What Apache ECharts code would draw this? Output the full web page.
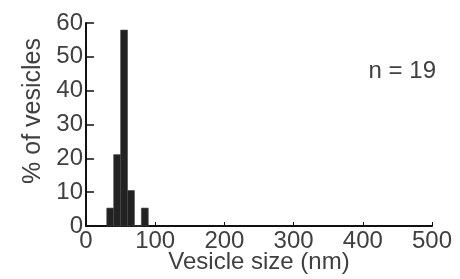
<!DOCTYPE html>
<html>
<head>
<meta charset="utf-8">
<script src="https://cdn.jsdelivr.net/npm/echarts@6/dist/echarts.min.js"></script>
<style>
  html, body { margin: 0; padding: 0; background: #fff; }
  #hist { width: 460px; height: 279px; }
</style>
</head>
<body>
<div id="hist"></div>
<script>
// bin edges (nm) and % of vesicles, n = 19
const binStart = [30, 40, 50, 60, 70, 80];
const binEnd = [40, 50, 60, 70, 80, 90];
const percent = [5.3, 21.1, 57.9, 10.5, 0, 5.3];
const xTicks = [0, 100, 200, 300, 400, 500];
const yTicks = [0, 10, 20, 30, 40, 50, 60];

const chart = echarts.init(document.getElementById('hist'));
const font = 'Liberation Sans, Arial, sans-serif';
const textColor = '#404040';

const data = binStart.map((s, i) => [s, binEnd[i], percent[i]]);

chart.setOption({
  animation: false,
  grid: { left: 86, right: 28, top: 23, bottom: 53, containLabel: false, outerBoundsMode: 'none' },
  xAxis: {
    type: 'value',
    min: xTicks[0],
    max: xTicks[xTicks.length - 1],
    interval: 100,
    name: 'Vesicle size (nm)',
    nameLocation: 'middle',
    nameGap: 24,
    nameMoveOverlap: false,
    nameTextStyle: { fontFamily: font, fontSize: 24, color: textColor, verticalAlign: 'top' },
    axisLine: { lineStyle: { color: '#111', width: 2 } },
    axisTick: { inside: true, length: 4, lineStyle: { color: '#111' } },
    axisLabel: { margin: 3, fontFamily: font, fontSize: 24, color: textColor },
    splitLine: { show: false }
  },
  yAxis: {
    type: 'value',
    min: yTicks[0],
    max: yTicks[yTicks.length - 1],
    interval: 10,
    axisLine: { show: true, lineStyle: { color: '#111', width: 2 } },
    axisTick: { show: true, inside: true, length: 8, lineStyle: { color: '#111', width: 1.5 } },
    axisLabel: { margin: 3, fontFamily: font, fontSize: 24, color: textColor },
    splitLine: { show: false }
  },
  graphic: [{
    type: 'text',
    x: 33,
    y: 111,
    rotation: Math.PI / 2,
    style: {
      text: '% of vesicles', font: '25px ' + font, fill: textColor,
      align: 'center', verticalAlign: 'middle'
    }
  }, {
    type: 'text',
    x: 436,
    y: 71,
    style: {
      text: 'n = 19', font: '24px ' + font, fill: textColor,
      align: 'right', verticalAlign: 'middle'
    }
  }],
  series: [{
    type: 'custom',
    data: data,
    renderItem: function (params, api) {
      const p0 = api.coord([api.value(0), api.value(2)]);
      const p1 = api.coord([api.value(1), 0]);
      return {
        type: 'rect',
        shape: { x: p0[0], y: p0[1], width: p1[0] - p0[0], height: p1[1] - p0[1] },
        style: { fill: '#222', stroke: '#444', lineWidth: 0.6 }
      };
    }
  }]
});
</script>
</body>
</html>
